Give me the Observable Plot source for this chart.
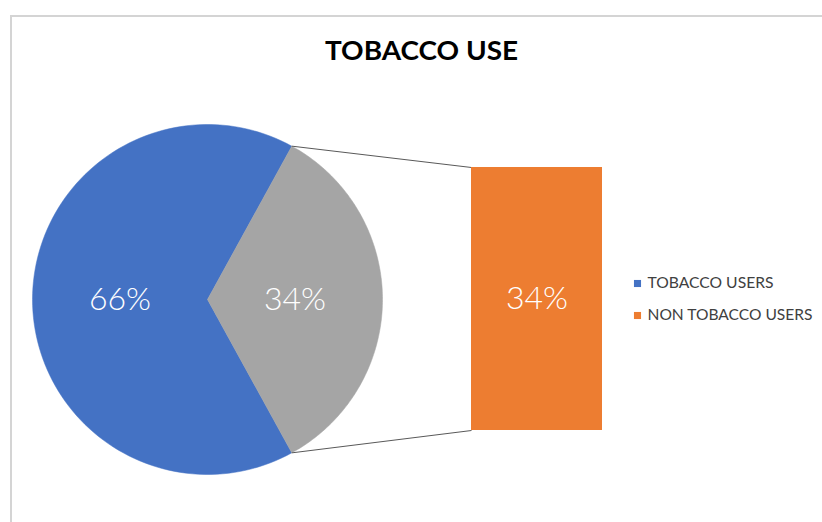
<!DOCTYPE html>
<html>
<head>
<meta charset="utf-8">
<script src="https://cdn.jsdelivr.net/npm/d3@7"></script>
<script src="https://cdn.jsdelivr.net/npm/@observablehq/plot@0.6"></script>
<style>
  html, body { margin: 0; padding: 0; background: #fff; overflow: hidden; }
  #wrap { position: relative; width: 822px; height: 522px; }
  #border { position: absolute; left: 10px; top: 15px; width: 900px; height: 600px;
            border-top: 2px solid #d4d4d4; border-left: 2px solid #d4d4d4; }
  #chart { position: absolute; left: 0; top: 0; }
</style>
</head>
<body>
<div id="wrap"><div id="border"></div><div id="chart"></div></div>
<script>
// ---- data ----
const title = "TOBACCO USE";
const categories = ["TOBACCO USERS", "NON TOBACCO USERS"];
const values = [66, 34];            // percent
const pieColors = ["#4472C4", "#A5A5A5"];
const legendColors = ["#4472C4", "#ED7D31"];
const barColor = "#ED7D31";

// ---- layout ----
const W = 822, H = 522;
const cx = 207, cy = 299, R = 175;
const barX1 = 471, barX2 = 602, barY1 = 167, barY2 = 430;

const total = d3.sum(values);
// the "other" slice (index 1) is centred on the right (angle 0)
const otherHalf = (values[1] / total) * Math.PI;  // half-angle in radians
const slices = [
  {name: categories[0], a0: otherHalf, a1: 2 * Math.PI - otherHalf, color: pieColors[0], value: values[0]},
  {name: categories[1], a0: -otherHalf, a1: otherHalf, color: pieColors[1], value: values[1]}
];
function pt(a, r) { return {x: cx + r * Math.cos(a), y: cy - r * Math.sin(a)}; }
function slicePoly(s) {
  const n = 120, pts = [{x: cx, y: cy}];
  for (let i = 0; i <= n; i++) pts.push(pt(s.a0 + (s.a1 - s.a0) * i / n, R));
  pts.push({x: cx, y: cy});
  return pts;
}
const labelPts = slices.map(s => {
  const m = (s.a0 + s.a1) / 2;
  return {...pt(m, R * 0.5), text: Math.round(s.value / total * 100) + "%"};
});

// secondary bar: contains only the "other" slice
const barData = [{y1: barY1, y2: barY2, x1: barX1, x2: barX2, text: Math.round(values[1] / total * 100) + "%"}];

const pTop = pt(otherHalf, R), pBot = pt(-otherHalf, R);
const connectors = [
  {x1: pTop.x, y1: pTop.y, x2: barX1, y2: barY1},
  {x1: pBot.x, y1: pBot.y, x2: barX1, y2: barY2}
];

const legend = categories.map((c, i) => ({name: c, color: legendColors[i], x: 637, y: 283 + i * 32}));

const labelFont = {fill: "#fff", fontSize: 32, fontWeight: 300, fontFamily: "Lato"};
const marks = [
  ...slices.map(s => Plot.line(slicePoly(s), {x: "x", y: "y", fill: s.color, stroke: s.color, strokeWidth: 0.5})),
  Plot.link(connectors, {x1: "x1", y1: "y1", x2: "x2", y2: "y2", stroke: "#595959", strokeWidth: 1}),
  Plot.rect(barData, {x1: "x1", x2: "x2", y1: "y1", y2: "y2", fill: barColor}),
  Plot.text(labelPts, {x: "x", y: "y", text: "text", ...labelFont}),
  Plot.text(barData, {x: d => (d.x1 + d.x2) / 2, y: d => (d.y1 + d.y2) / 2, text: "text", ...labelFont}),
  Plot.text([title], {x: 421, y: 51, text: d => d, fill: "#000", fontSize: 27, fontWeight: "bold", fontFamily: "Lato"}),
  Plot.dot(legend, {x: "x", y: "y", symbol: "square", r: 4, fill: "color", stroke: null}),
  Plot.text(legend, {x: d => d.x + 10, y: "y", text: "name", textAnchor: "start", fill: "#404040", fontSize: 15, fontFamily: "Lato"})
];

const chart = Plot.plot({
  width: W, height: H, margin: 0,
  x: {domain: [0, W], range: [0, W], axis: null},
  y: {domain: [0, H], range: [0, H], axis: null},
  style: {background: "transparent"},
  marks
});
// fit text widths to the reference
const targetWidths = {"TOBACCO USE": 193, "TOBACCO USERS": 126, "NON TOBACCO USERS": 165};
chart.querySelectorAll("text").forEach(t => {
  const w = targetWidths[t.textContent];
  if (w) { t.setAttribute("textLength", w); t.setAttribute("lengthAdjust", "spacingAndGlyphs"); }
});
document.getElementById("chart").appendChild(chart);
</script>
</body>
</html>
